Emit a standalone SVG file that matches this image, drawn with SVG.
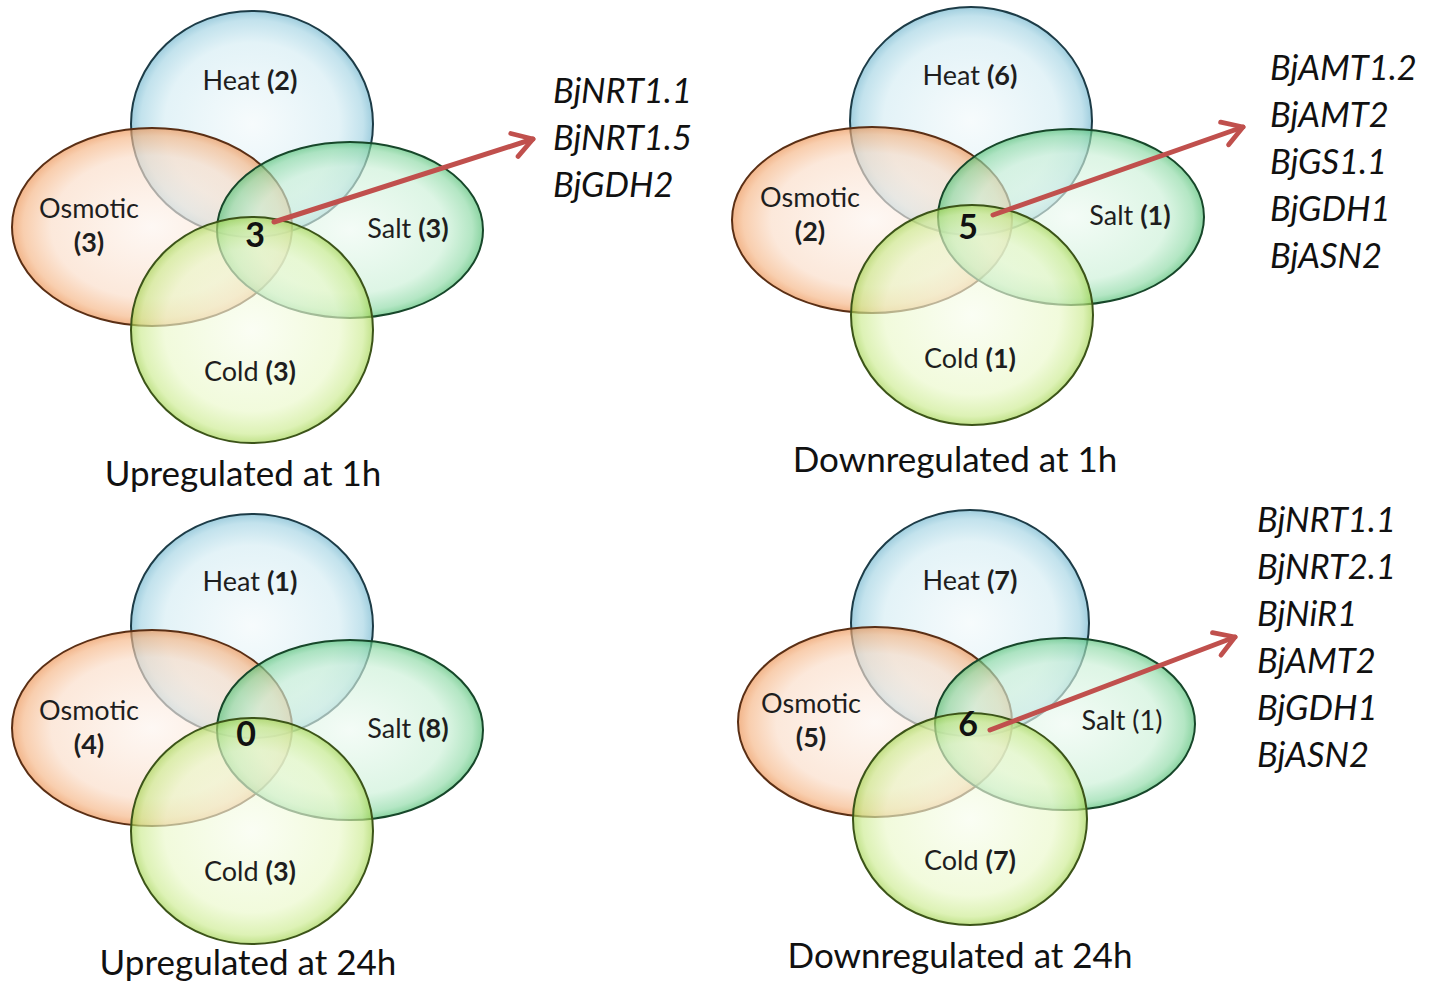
<svg xmlns="http://www.w3.org/2000/svg" width="1443" height="983" viewBox="0 0 1443 983">
  <defs>
    <radialGradient id="gHeat" cx="50%" cy="50%" r="50%">
      <stop offset="0" stop-color="#f2f9fb"/>
      <stop offset="0.72" stop-color="#d4ecf3"/>
      <stop offset="0.92" stop-color="#a2d3e3"/>
      <stop offset="1" stop-color="#6cb3cc"/>
    </radialGradient>
    <radialGradient id="gOsm" cx="50%" cy="50%" r="50%">
      <stop offset="0" stop-color="#fdf4ee"/>
      <stop offset="0.72" stop-color="#fadcc7"/>
      <stop offset="0.92" stop-color="#f5b483"/>
      <stop offset="1" stop-color="#eb8d4b"/>
    </radialGradient>
    <radialGradient id="gSalt" cx="50%" cy="50%" r="50%">
      <stop offset="0" stop-color="#eefaf2"/>
      <stop offset="0.72" stop-color="#cbf0d7"/>
      <stop offset="0.92" stop-color="#8bd9a4"/>
      <stop offset="1" stop-color="#4dbd70"/>
    </radialGradient>
    <radialGradient id="gCold" cx="50%" cy="50%" r="50%">
      <stop offset="0" stop-color="#f8fdee"/>
      <stop offset="0.72" stop-color="#eaf8c9"/>
      <stop offset="0.92" stop-color="#cbeb8e"/>
      <stop offset="1" stop-color="#a0d24c"/>
    </radialGradient>
    <marker id="chev" viewBox="0 0 20 20" refX="16" refY="10" markerWidth="6" markerHeight="6" orient="auto" markerUnits="strokeWidth">
      <path d="M3,2 L16,10 L3,18" fill="none" stroke="#c0504d" stroke-width="3.2" stroke-linecap="round" stroke-linejoin="round"/>
    </marker>
  </defs>
  <style>
    .heat { fill: url(#gHeat); fill-opacity: 0.65; stroke: #1d3c47; stroke-width: 2; }
    .osm  { fill: url(#gOsm);  fill-opacity: 0.65; stroke: #5a2f15; stroke-width: 2; }
    .salt { fill: url(#gSalt); fill-opacity: 0.65; stroke: #17472a; stroke-width: 2; }
    .cold { fill: url(#gCold); fill-opacity: 0.65; stroke: #3c5419; stroke-width: 2; }
    .lbl  { font-family: Lato, "Liberation Sans", sans-serif; font-size: 27px; fill: #1e1e1e; text-anchor: middle; }
    .n { font-weight: bold; }
    .mid  { font-family: Lato, "Liberation Sans", sans-serif; font-size: 34px; font-weight: bold; fill: #111; text-anchor: middle; }
    .ttl  { font-family: Lato, "Liberation Sans", sans-serif; font-size: 35px; fill: #111; text-anchor: middle; }
    .gene { font-family: Lato, "Liberation Sans", sans-serif; font-size: 34.5px; font-style: italic; fill: #111; }
    .arrow { fill: none; stroke: #c0504d; stroke-width: 5; stroke-linecap: round; marker-end: url(#chev); }
  </style>

  <rect width="1443" height="983" fill="#ffffff"/>

  <!-- Panel: upregulated at 1h -->
  <g id="up1h">
    <g id="up1h-heat"><ellipse class="heat" cx="252" cy="124" rx="121" ry="113"/></g>
    <g id="up1h-osmotic"><ellipse class="osm" cx="152" cy="227" rx="140" ry="99"/></g>
    <g id="up1h-salt"><ellipse class="salt" cx="350" cy="230" rx="133" ry="88"/></g>
    <g id="up1h-cold"><ellipse class="cold" cx="252" cy="330" rx="121" ry="113"/></g>
    <text class="lbl" x="250" y="90">Heat <tspan class="n">(2)</tspan></text>
    <text class="lbl" x="89" y="218">Osmotic</text>
    <text class="lbl n" x="89" y="252">(3)</text>
    <text class="lbl" x="408" y="238">Salt <tspan class="n">(3)</tspan></text>
    <text class="lbl" x="250" y="381">Cold <tspan class="n">(3)</tspan></text>
    <text class="mid" x="255" y="247">3</text>
    <text class="ttl" x="243" y="486">Upregulated at 1h</text>
    <text class="gene" x="553" y="103">BjNRT1.1</text>
    <text class="gene" x="553" y="150">BjNRT1.5</text>
    <text class="gene" x="553" y="197">BjGDH2</text>
  </g>

  <!-- Panel: downregulated at 1h -->
  <g id="down1h">
    <g id="down1h-heat"><ellipse class="heat" cx="971" cy="121" rx="121" ry="114"/></g>
    <g id="down1h-osmotic"><ellipse class="osm" cx="872" cy="220" rx="140" ry="93"/></g>
    <g id="down1h-salt"><ellipse class="salt" cx="1071" cy="217" rx="133" ry="88"/></g>
    <g id="down1h-cold"><ellipse class="cold" cx="972" cy="315" rx="121" ry="110"/></g>
    <text class="lbl" x="970" y="85">Heat <tspan class="n">(6)</tspan></text>
    <text class="lbl" x="810" y="207">Osmotic</text>
    <text class="lbl n" x="810" y="241">(2)</text>
    <text class="lbl" x="1130" y="225">Salt <tspan class="n">(1)</tspan></text>
    <text class="lbl" x="970" y="368">Cold <tspan class="n">(1)</tspan></text>
    <text class="mid" x="968" y="239">5</text>
    <text class="ttl" x="955" y="472">Downregulated at 1h</text>
    <text class="gene" x="1270" y="80">BjAMT1.2</text>
    <text class="gene" x="1270" y="127">BjAMT2</text>
    <text class="gene" x="1270" y="174">BjGS1.1</text>
    <text class="gene" x="1270" y="221">BjGDH1</text>
    <text class="gene" x="1270" y="268">BjASN2</text>
  </g>

  <!-- Panel: upregulated at 24h -->
  <g id="up24h">
    <g id="up24h-heat"><ellipse class="heat" cx="252" cy="626" rx="121" ry="112"/></g>
    <g id="up24h-osmotic"><ellipse class="osm" cx="152" cy="728" rx="140" ry="98"/></g>
    <g id="up24h-salt"><ellipse class="salt" cx="350" cy="730" rx="133" ry="90"/></g>
    <g id="up24h-cold"><ellipse class="cold" cx="252" cy="831" rx="121" ry="113"/></g>
    <text class="lbl" x="250" y="591">Heat <tspan class="n">(1)</tspan></text>
    <text class="lbl" x="89" y="720">Osmotic</text>
    <text class="lbl n" x="89" y="754">(4)</text>
    <text class="lbl" x="408" y="738">Salt <tspan class="n">(8)</tspan></text>
    <text class="lbl" x="250" y="881">Cold <tspan class="n">(3)</tspan></text>
    <text class="mid" x="246" y="746">0</text>
    <text class="ttl" x="248" y="975">Upregulated at 24h</text>
  </g>

  <!-- Panel: downregulated at 24h -->
  <g id="down24h">
    <g id="down24h-heat"><ellipse class="heat" cx="970" cy="623" rx="119" ry="113"/></g>
    <g id="down24h-osmotic"><ellipse class="osm" cx="875" cy="722" rx="137" ry="95"/></g>
    <g id="down24h-salt"><ellipse class="salt" cx="1065" cy="724" rx="130" ry="86"/></g>
    <g id="down24h-cold"><ellipse class="cold" cx="970" cy="819" rx="117" ry="106"/></g>
    <text class="lbl" x="970" y="590">Heat <tspan class="n">(7)</tspan></text>
    <text class="lbl" x="811" y="713">Osmotic</text>
    <text class="lbl n" x="811" y="747">(5)</text>
    <text class="lbl" x="1122" y="730">Salt (1)</text>
    <text class="lbl" x="970" y="870">Cold <tspan class="n">(7)</tspan></text>
    <text class="mid" x="968" y="736">6</text>
    <text class="ttl" x="960" y="968">Downregulated at 24h</text>
    <text class="gene" x="1257" y="532">BjNRT1.1</text>
    <text class="gene" x="1257" y="579">BjNRT2.1</text>
    <text class="gene" x="1257" y="626">BjNiR1</text>
    <text class="gene" x="1257" y="673">BjAMT2</text>
    <text class="gene" x="1257" y="720">BjGDH1</text>
    <text class="gene" x="1257" y="767">BjASN2</text>
  </g>

  <!-- Connectors from the shared region to the gene lists -->
  <g id="connectors">
    <line class="arrow" x1="274" y1="222" x2="533" y2="139"/>
    <line class="arrow" x1="993" y1="215" x2="1243" y2="127"/>
    <line class="arrow" x1="990" y1="730" x2="1235" y2="637"/>
  </g>
</svg>
